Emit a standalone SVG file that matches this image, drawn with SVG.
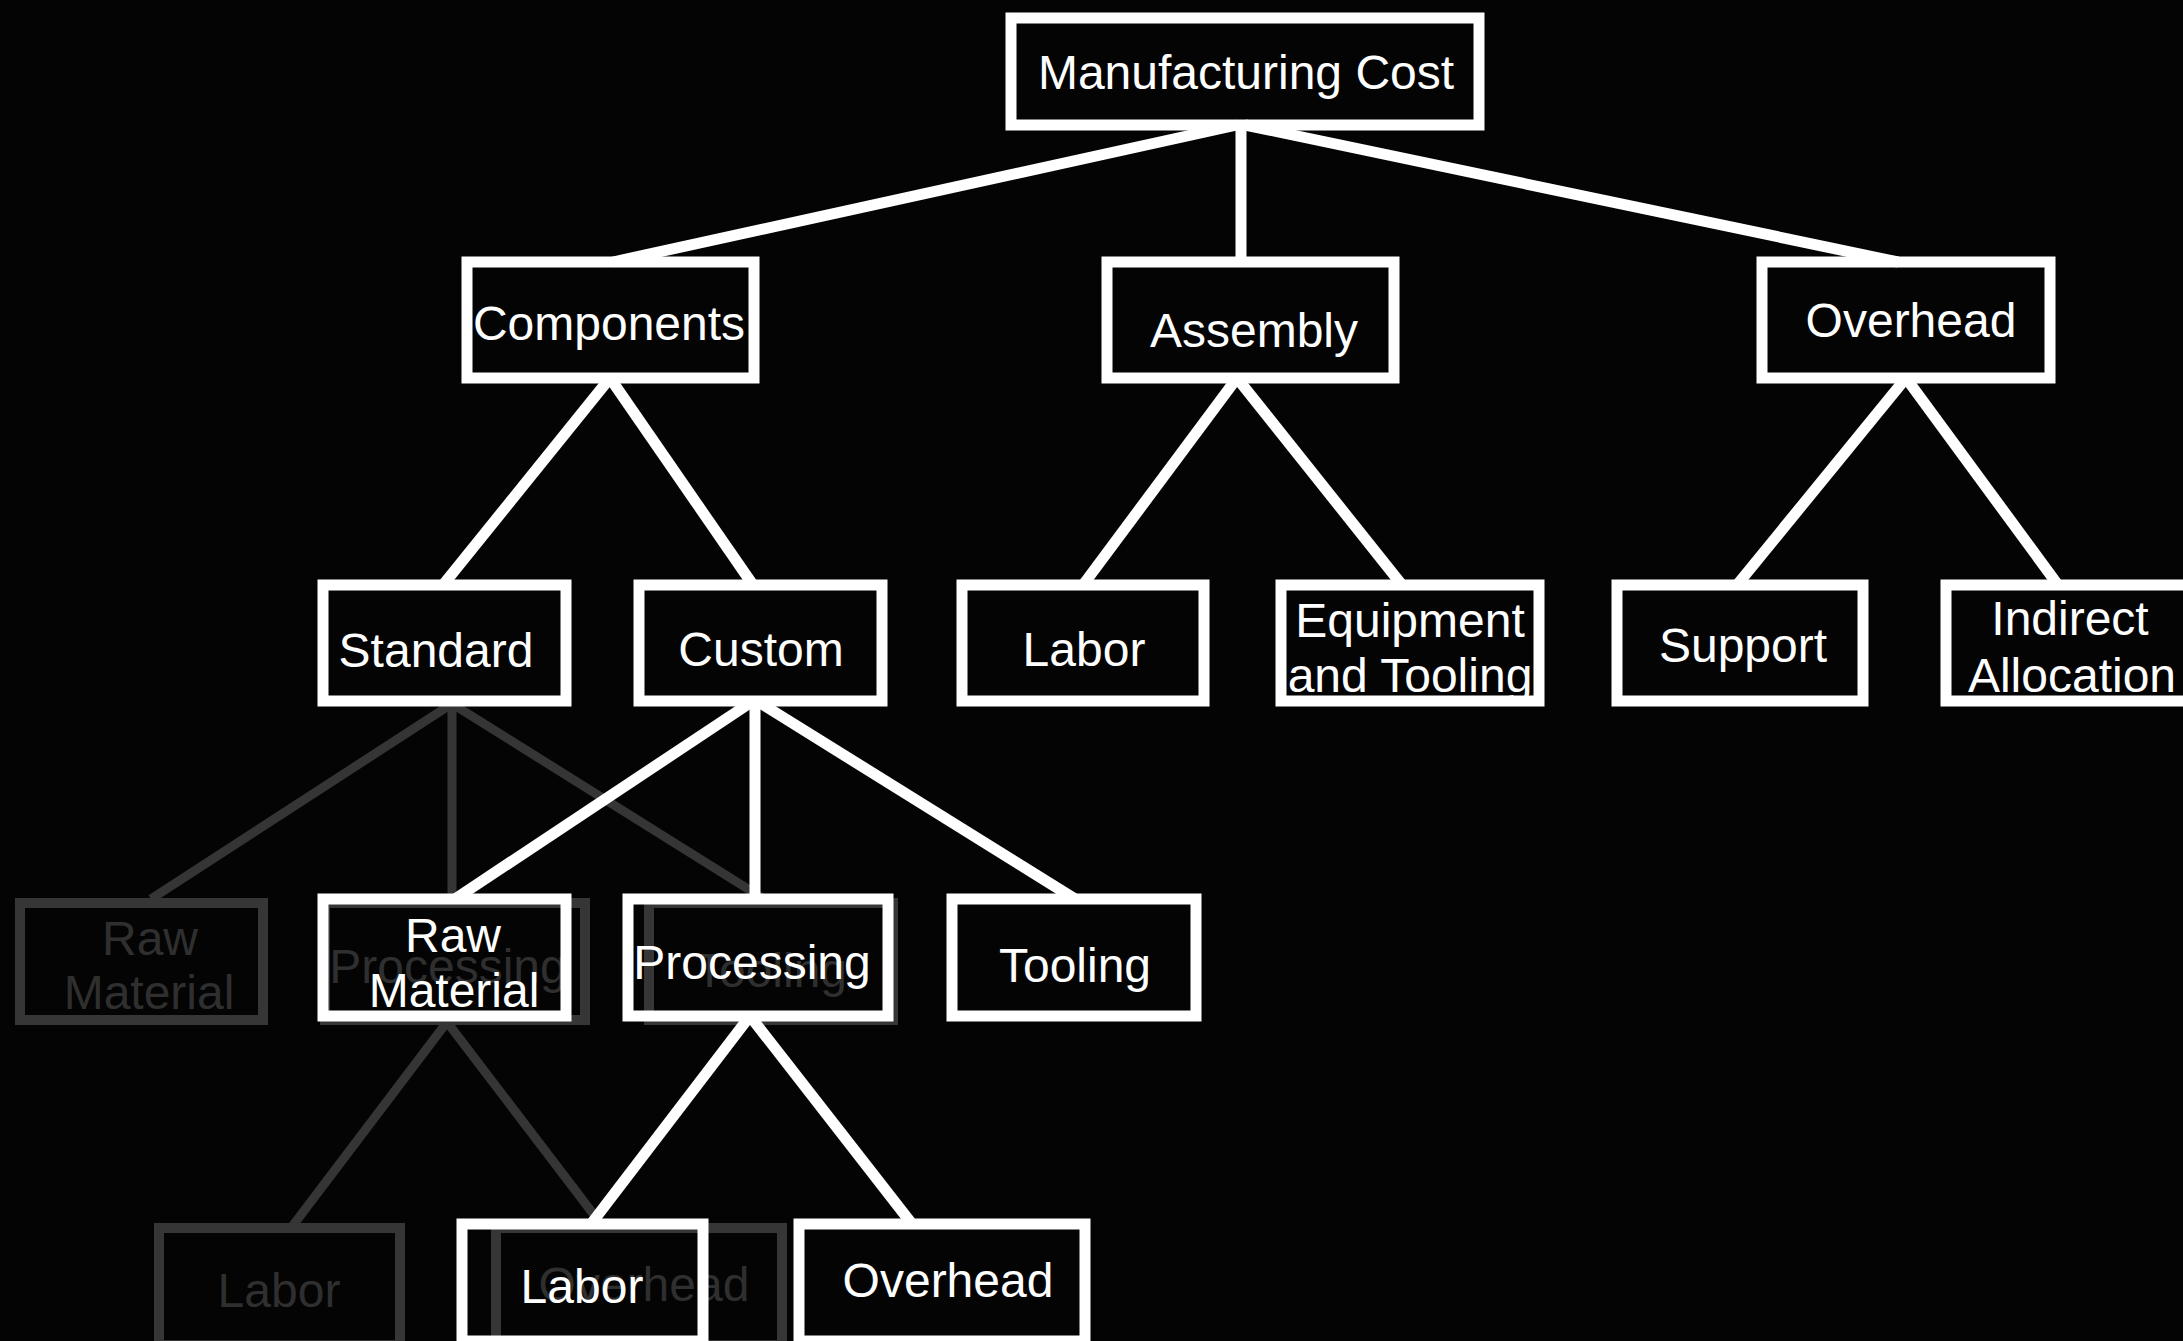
<svg xmlns="http://www.w3.org/2000/svg" width="2183" height="1341" viewBox="0 0 2183 1341">
<style>
.bg{fill:#040404}
.box{fill:none;stroke:#ffffff;stroke-width:11}
.gbox{fill:none;stroke:#363636;stroke-width:10}
.t{font-family:"Liberation Sans",Arial,sans-serif;font-size:48px;fill:#ffffff;text-anchor:middle}
.gt{font-family:"Liberation Sans",Arial,sans-serif;font-size:48px;fill:#2f2f2f;text-anchor:middle}
.c{stroke:#ffffff;stroke-width:11;fill:none;stroke-linecap:butt}
.gc{stroke:#353535;stroke-width:9;fill:none}
</style>
<rect class="bg" x="0" y="0" width="2183" height="1341"/>

<g id="ghost-connectors">
<line class="gc" x1="450" y1="705" x2="151" y2="899"/>
<line class="gc" x1="452" y1="705" x2="452" y2="899"/>
<line class="gc" x1="454" y1="705" x2="764" y2="899"/>
<line class="gc" x1="447" y1="1022" x2="291" y2="1228"/>
<line class="gc" x1="447" y1="1022" x2="604" y2="1228"/>
</g>

<g id="ghost-raw-material">
<rect class="gbox" x="20" y="903" width="243" height="117"/>
<text class="gt" x="150" y="955" font-size="47">Raw</text>
<text class="gt" x="149" y="1009" font-size="47">Material</text>
</g>
<g id="ghost-processing">
<rect class="gbox" x="325" y="903" width="260" height="117"/>
<text class="gt" x="448" y="983">Processing</text>
</g>
<g id="ghost-tooling">
<rect class="gbox" x="649" y="903" width="244" height="117"/>
<text class="gt" x="771" y="987">Tooling</text>
</g>
<g id="ghost-labor">
<rect class="gbox" x="159" y="1228" width="241" height="117"/>
<text class="gt" x="279" y="1307">Labor</text>
</g>
<g id="ghost-overhead">
<rect class="gbox" x="496" y="1228" width="286" height="117"/>
<text class="gt" x="644" y="1301">Overhead</text>
</g>

<g id="connectors">
<line class="c" x1="1237" y1="125" x2="613" y2="262"/>
<line class="c" x1="1241" y1="125" x2="1241" y2="262"/>
<line class="c" x1="1245" y1="125" x2="1898" y2="262"/>
<line class="c" x1="610" y1="378" x2="443" y2="585"/>
<line class="c" x1="610" y1="378" x2="753" y2="585"/>
<line class="c" x1="1237" y1="378" x2="1083" y2="585"/>
<line class="c" x1="1237" y1="378" x2="1402" y2="585"/>
<line class="c" x1="1906" y1="378" x2="1737" y2="585"/>
<line class="c" x1="1906" y1="378" x2="2058" y2="585"/>
<line class="c" x1="753" y1="701" x2="455" y2="899"/>
<line class="c" x1="755" y1="701" x2="755" y2="899"/>
<line class="c" x1="757" y1="701" x2="1075" y2="899"/>
<line class="c" x1="750" y1="1016" x2="591" y2="1224"/>
<line class="c" x1="750" y1="1016" x2="912" y2="1224"/>
</g>

<g id="manufacturing-cost">
<text class="t" x="1246" y="89">Manufacturing Cost</text>
<rect class="box" x="1011" y="18" width="468" height="107"/>
</g>
<g id="components">
<text class="t" x="609" y="340">Components</text>
<rect class="box" x="467" y="262" width="287" height="116"/>
</g>
<g id="assembly">
<text class="t" x="1254" y="347">Assembly</text>
<rect class="box" x="1107" y="262" width="287" height="116"/>
</g>
<g id="overhead">
<text class="t" x="1911" y="337">Overhead</text>
<rect class="box" x="1762" y="262" width="288" height="116"/>
</g>
<g id="standard">
<text class="t" x="436" y="667">Standard</text>
<rect class="box" x="323" y="585" width="243" height="116"/>
</g>
<g id="custom">
<text class="t" x="761" y="666">Custom</text>
<rect class="box" x="639" y="585" width="243" height="116"/>
</g>
<g id="assembly-labor">
<text class="t" x="1084" y="666">Labor</text>
<rect class="box" x="962" y="585" width="242" height="116"/>
</g>
<g id="equipment-and-tooling">
<text class="t" x="1410" y="637">Equipment</text>
<text class="t" x="1410" y="692">and Tooling</text>
<rect class="box" x="1281" y="585" width="258" height="116"/>
</g>
<g id="support">
<text class="t" x="1743" y="662">Support</text>
<rect class="box" x="1617" y="585" width="246" height="116"/>
</g>
<g id="indirect-allocation">
<text class="t" x="2070" y="635" font-size="47">Indirect</text>
<text class="t" x="2072" y="692" font-size="47">Allocation</text>
<rect class="box" x="1946" y="585" width="250" height="116"/>
</g>
<g id="raw-material">
<text class="t" x="453" y="952" font-size="47">Raw</text>
<text class="t" x="454" y="1007" font-size="47">Material</text>
<rect class="box" x="323" y="899" width="243" height="117"/>
</g>
<g id="processing">
<text class="t" x="752" y="979">Processing</text>
<rect class="box" x="628" y="899" width="260" height="117"/>
</g>
<g id="tooling">
<text class="t" x="1075" y="982">Tooling</text>
<rect class="box" x="952" y="899" width="244" height="117"/>
</g>
<g id="processing-labor">
<text class="t" x="582" y="1303">Labor</text>
<rect class="box" x="462" y="1224" width="241" height="117"/>
</g>
<g id="processing-overhead">
<text class="t" x="948" y="1297">Overhead</text>
<rect class="box" x="799" y="1224" width="286" height="117"/>
</g>
</svg>
